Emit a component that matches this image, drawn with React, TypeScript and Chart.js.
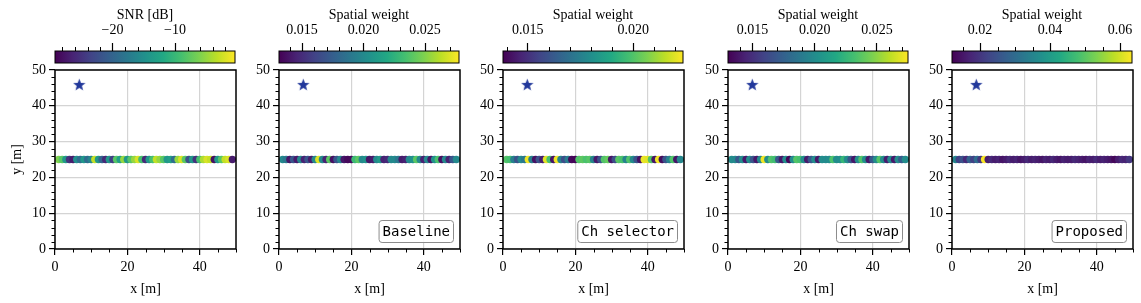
import React, { useEffect, useRef } from 'react';
import { Chart, registerables } from 'chart.js';

Chart.register(...registerables);

const SERIF = '"Liberation Serif", "Times New Roman", serif';
const MONO = '"DejaVu Sans Mono", monospace';

// ---------- data ----------
const xPositions = [
  1, 2, 3, 4, 5, 6, 7, 8, 9, 10, 11, 12, 13, 14, 15, 16, 17, 18, 19, 20,
  21, 22, 23, 24, 25, 26, 27, 28, 29, 30, 31, 32, 33, 34, 35, 36, 37, 38, 39, 40,
  41, 42, 43, 44, 45, 46, 47, 48, 49,
];
const microphoneY = 25;
const sourcePoint = { x: 6.7, y: 46 };

const snrValues = [
  -6, -8, -14, -25, -27, -15, -19, -14, -19, -16,
  -3, -14, -20, -26, -14, -24, -8, -13, -5, -14,
  -8, -5, -2, -9, -26, -14, -9, -3, -5, -8,
  -14, -13, -19, -5, -2, -8, -22, -14, -25, -9,
  -4, -2, -3, -28, -14, -8, -3, -2, -27,
];
const baselineWeights = [
  0.020, 0.019, 0.014, 0.017, 0.0142, 0.020, 0.0145, 0.017, 0.0142, 0.020,
  0.027, 0.020, 0.0145, 0.024, 0.0138, 0.017, 0.020, 0.014, 0.0135, 0.0135,
  0.023, 0.024, 0.020, 0.0205, 0.014, 0.0142, 0.020, 0.021, 0.0145, 0.0148,
  0.020, 0.020, 0.019, 0.0142, 0.0145, 0.020, 0.0205, 0.024, 0.020, 0.0145,
  0.020, 0.014, 0.0205, 0.0235, 0.0138, 0.020, 0.0145, 0.017, 0.020,
];
const selectorWeights = [
  0.0200, 0.0198, 0.0175, 0.0160, 0.0178, 0.0172, 0.0222, 0.0175, 0.0142, 0.0160,
  0.0145, 0.0220, 0.0198, 0.0143, 0.0222, 0.0176, 0.0158, 0.0174, 0.0140, 0.0139,
  0.0200, 0.0202, 0.0199, 0.0201, 0.0176, 0.0144, 0.0160, 0.0200, 0.0203, 0.0143,
  0.0158, 0.0201, 0.0199, 0.0176, 0.0200, 0.0178, 0.0160, 0.0142, 0.0221, 0.0220,
  0.0200, 0.0143, 0.0222, 0.0141, 0.0160, 0.0176, 0.0200, 0.0143, 0.0177,
];
const swapWeights = [
  0.0200, 0.0198, 0.0170, 0.0200, 0.0140, 0.0201, 0.0168, 0.0140, 0.0199, 0.0272,
  0.0200, 0.0235, 0.0230, 0.0170, 0.0140, 0.0201, 0.0133, 0.0199, 0.0236, 0.0232,
  0.0200, 0.0141, 0.0170, 0.0200, 0.0140, 0.0201, 0.0199, 0.0200, 0.0234, 0.0200,
  0.0201, 0.0226, 0.0200, 0.0169, 0.0139, 0.0200, 0.0235, 0.0201, 0.0140, 0.0170,
  0.0200, 0.0236, 0.0200, 0.0142, 0.0198, 0.0140, 0.0200, 0.0171, 0.0200,
];
const proposedWeights = [
  0.035, 0.022, 0.025, 0.018, 0.028, 0.022, 0.030, 0.020, 0.063, 0.016,
  0.018, 0.016, 0.017, 0.015, 0.016, 0.018, 0.016, 0.017, 0.015, 0.016,
  0.018, 0.016, 0.017, 0.016, 0.015, 0.017, 0.016, 0.018, 0.016, 0.015,
  0.017, 0.016, 0.016, 0.018, 0.017, 0.016, 0.015, 0.017, 0.016, 0.018,
  0.016, 0.017, 0.016, 0.015, 0.013, 0.016, 0.018, 0.017, 0.020,
];

const colorbarTitles = ['SNR [dB]', 'Spatial weight', 'Spatial weight', 'Spatial weight', 'Spatial weight'];
const colorbarRanges = [
  [-29.2, -0.4],
  [0.01313, 0.02776],
  [0.01382, 0.02236],
  [0.01304, 0.0275],
  [0.012, 0.0634],
];
const colorbarMajorSteps = [10, 0.005, 0.005, 0.005, 0.02];
const colorbarMinorSteps = [2, 0.001, 0.001, 0.001, 0.005];
const colorbarDecimals = [0, 3, 3, 3, 2];
const panelLabels = [null, 'Baseline', 'Ch selector', 'Ch swap', 'Proposed'];
const panelValues = [snrValues, baselineWeights, selectorWeights, swapWeights, proposedWeights];
const panelLefts = [0, 224, 448, 673, 897];

// ---------- colormap ----------
const VIRIDIS = [
  '#440154', '#482475', '#414487', '#355f8d', '#2a788e', '#21918c',
  '#22a884', '#44bf70', '#7ad151', '#bddf26', '#fde725',
];
function hexToRgb(h: string) {
  return [parseInt(h.slice(1, 3), 16), parseInt(h.slice(3, 5), 16), parseInt(h.slice(5, 7), 16)];
}
function viridis(t: number) {
  const tt = Math.max(0, Math.min(1, t));
  const pos = tt * (VIRIDIS.length - 1);
  const i = Math.min(Math.floor(pos), VIRIDIS.length - 2);
  const f = pos - i;
  const a = hexToRgb(VIRIDIS[i]);
  const b = hexToRgb(VIRIDIS[i + 1]);
  const c = a.map((v, k) => Math.round(v + (b[k] - v) * f));
  return `rgb(${c[0]},${c[1]},${c[2]})`;
}

function makeStar(size: number, color: string) {
  const c = document.createElement('canvas');
  c.width = size;
  c.height = size;
  const g = c.getContext('2d')!;
  const cx = size / 2;
  const cy = size / 2 + size * 0.05;
  const R = size / 2;
  const r = R * 0.42;
  g.beginPath();
  for (let i = 0; i < 10; i++) {
    const ang = -Math.PI / 2 + (i * Math.PI) / 5;
    const rad = i % 2 === 0 ? R : r;
    g.lineTo(cx + rad * Math.cos(ang), cy + rad * Math.sin(ang));
  }
  g.closePath();
  g.fillStyle = color;
  g.fill();
  return c;
}

function formatTick(v: number, decimals: number) {
  const s = Math.abs(v).toFixed(decimals);
  return v < -1e-12 ? '\u2212' + s : s;
}

const font14 = { family: SERIF, size: 14 };
const PLOT_CANVAS_W = 243;

function Panel({ index }: { index: number }) {
  const cbRef = useRef<HTMLCanvasElement>(null);
  const plotRef = useRef<HTMLCanvasElement>(null);

  useEffect(() => {
    const [cbMin, cbMax] = colorbarRanges[index];
    const major = colorbarMajorSteps[index];
    const minor = colorbarMinorSteps[index];
    const decimals = colorbarDecimals[index];
    const values = panelValues[index];
    const label = panelLabels[index];

    const minorTicks = (scaleId: string, step: number, majorStep: number, len: number, side: 'top' | 'bottom' | 'left') => ({
      id: 'minor-' + scaleId,
      afterDraw(chart: any) {
        const scale = chart.scales[scaleId];
        const ca = chart.chartArea;
        const ctx = chart.ctx;
        const ratio = Math.round(majorStep / step);
        const k0 = Math.ceil(scale.min / step - 1e-9);
        const k1 = Math.floor(scale.max / step + 1e-9);
        ctx.save();
        ctx.strokeStyle = '#000';
        ctx.lineWidth = 1;
        ctx.beginPath();
        for (let k = k0; k <= k1; k++) {
          if (k % ratio === 0) continue;
          const p = scale.getPixelForValue(k * step);
          if (side === 'top') {
            const px = Math.round(p) + 0.5;
            ctx.moveTo(px, ca.top);
            ctx.lineTo(px, ca.top - len);
          } else if (side === 'bottom') {
            const px = Math.round(p) + 0.5;
            ctx.moveTo(px, ca.bottom);
            ctx.lineTo(px, ca.bottom + len);
          } else {
            const py = Math.round(p) + 0.5;
            ctx.moveTo(ca.left, py);
            ctx.lineTo(ca.left - len, py);
          }
        }
        ctx.stroke();
        ctx.restore();
      },
    });

    const gradientPlugin = {
      id: 'gradient',
      beforeDatasetsDraw(chart: any) {
        const { ctx, chartArea: ca } = chart;
        const g = ctx.createLinearGradient(ca.left, 0, ca.right, 0);
        VIRIDIS.forEach((c, i) => g.addColorStop(i / (VIRIDIS.length - 1), c));
        ctx.save();
        ctx.fillStyle = g;
        ctx.fillRect(ca.left, ca.top, ca.right - ca.left, ca.bottom - ca.top);
        ctx.strokeStyle = '#000';
        ctx.lineWidth = 1;
        ctx.strokeRect(ca.left, ca.top, ca.right - ca.left, ca.bottom - ca.top);
        ctx.restore();
      },
    };

    const cbChart = new Chart(cbRef.current!, {
      type: 'scatter',
      data: { datasets: [] },
      options: {
        responsive: false,
        animation: false,
        events: [],
        layout: { padding: { top: 0, right: 2, bottom: 2, left: 55 } },
        plugins: { legend: { display: false }, tooltip: { enabled: false } },
        scales: {
          x: {
            type: 'linear',
            position: 'top',
            min: cbMin,
            max: cbMax,
            afterFit: (s: any) => { s.height = 51; s.paddingLeft = 0; s.paddingRight = 0; },
            ticks: {
              stepSize: major,
              includeBounds: false,
              font: font14,
              color: '#000',
              padding: 4,
              maxRotation: 0,
              autoSkip: false,
              callback: (v: any) => formatTick(Number(v), decimals),
            },
            grid: { drawOnChartArea: false, tickLength: 8, tickColor: '#000', tickWidth: 1.2 },
            border: { display: false },
            title: { display: true, text: colorbarTitles[index], font: font14, color: '#000', padding: { top: 7, bottom: 0 } },
          },
          y: { display: false, min: 0, max: 1 },
        },
      },
      plugins: [gradientPlugin, minorTicks('x', minor, major, 4, 'top')],
    } as any);

    const star = makeStar(13, '#22389b');

    const framePlugin = {
      id: 'frame',
      afterDraw(chart: any) {
        const { ctx, chartArea: ca } = chart;
        ctx.save();
        ctx.strokeStyle = '#000';
        ctx.lineWidth = 1.5;
        ctx.strokeRect(ca.left, ca.top, ca.right - ca.left, ca.bottom - ca.top);
        if (label) {
          ctx.font = `14px ${MONO}`;
          const w = ctx.measureText(label).width + 7;
          const h = 22;
          const x1 = ca.right - 6.5 - w;
          const y1 = ca.bottom - 6.5 - h;
          ctx.beginPath();
          ctx.roundRect(x1, y1, w, h, 3);
          ctx.fillStyle = 'rgba(255,255,255,0.85)';
          ctx.fill();
          ctx.strokeStyle = '#8c8c8c';
          ctx.lineWidth = 1;
          ctx.stroke();
          ctx.fillStyle = '#000';
          ctx.textAlign = 'center';
          ctx.textBaseline = 'middle';
          ctx.fillText(label, x1 + w / 2, y1 + h / 2 + 1);
        }
        ctx.restore();
      },
    };

    const plotChart = new Chart(plotRef.current!, {
      type: 'scatter',
      data: {
        datasets: [
          {
            data: xPositions.map((x) => ({ x, y: microphoneY })),
            backgroundColor: values.map((v) => viridis((v - cbMin) / (cbMax - cbMin))),
            pointRadius: 3.7,
            borderWidth: 0,
          },
          {
            data: [sourcePoint],
            pointStyle: star as any,
            pointRadius: 6,
          },
        ],
      },
      options: {
        responsive: false,
        animation: false,
        events: [],
        layout: { padding: { top: 10, right: 2, bottom: 0, left: 0 } },
        plugins: { legend: { display: false }, tooltip: { enabled: false } },
        scales: {
          x: {
            type: 'linear',
            position: 'bottom',
            min: 0,
            max: 50,
            afterFit: (s: any) => { s.height = 54; s.paddingLeft = 0; s.paddingRight = 0; },
            ticks: { stepSize: 20, includeBounds: false, font: font14, color: '#000', padding: 4, maxRotation: 0, autoSkip: false },
            grid: { color: '#d4d4d4', lineWidth: 1.2, tickColor: '#000', tickLength: 6, tickWidth: 1.2 },
            border: { display: false },
            title: { display: true, text: 'x [m]', font: font14, color: '#000', padding: { top: 0, bottom: 5 } },
          },
          y: {
            type: 'linear',
            position: 'left',
            min: 0,
            max: 50,
            afterFit: (s: any) => { s.width = 55; s.paddingTop = 0; s.paddingBottom = 0; },
            ticks: { stepSize: 10, includeBounds: false, font: font14, color: '#000', padding: 3, autoSkip: false },
            grid: { color: '#d4d4d4', lineWidth: 1.2, tickColor: '#000', tickLength: 6, tickWidth: 1.2 },
            border: { display: false },
            title: { display: index === 0, text: 'y [m]', font: font14, color: '#000', padding: { top: 9, bottom: 0 } },
          },
        },
      },
      plugins: [minorTicks('x', 5, 20, 3.5, 'bottom'), minorTicks('y', 2, 10, 3.5, 'left'), framePlugin],
    } as any);

    return () => {
      cbChart.destroy();
      plotChart.destroy();
    };
  }, [index]);

  const left = panelLefts[index];
  return (
    <>
      <canvas
        ref={cbRef}
        width={237}
        height={65}
        style={{ position: 'absolute', left, top: 0, width: 237, height: 65 }}
      />
      <canvas
        ref={plotRef}
        width={PLOT_CANVAS_W}
        height={243}
        style={{ position: 'absolute', left, top: 60, width: PLOT_CANVAS_W, height: 243 }}
      />
    </>
  );
}

export default function App() {
  return (
    <div style={{ position: 'absolute', left: 0, top: 0, width: 1141, height: 303, background: '#fff', overflow: 'hidden' }}>
      {[0, 1, 2, 3, 4].map((i) => (
        <Panel key={i} index={i} />
      ))}
    </div>
  );
}
